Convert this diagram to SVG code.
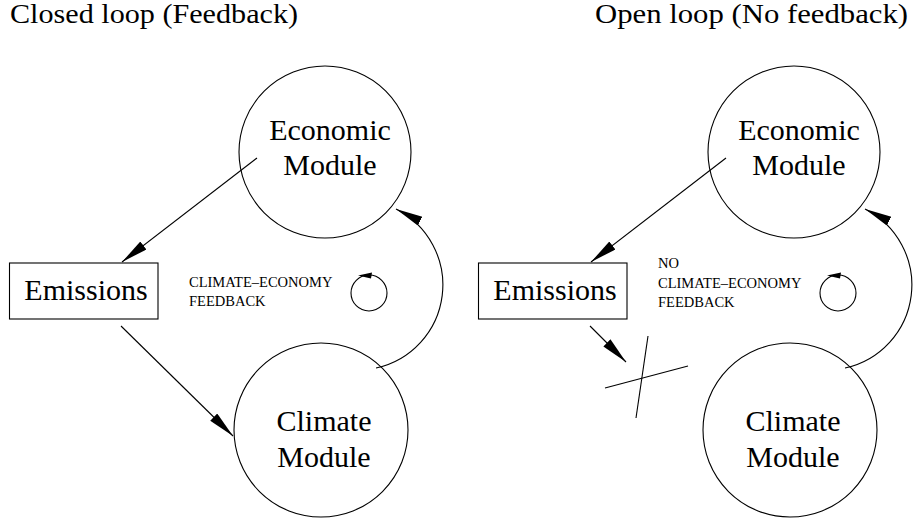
<svg xmlns="http://www.w3.org/2000/svg" width="915" height="521" viewBox="0 0 915 521" font-family="'Liberation Serif', serif">
  <style>
    .ln { fill: none; stroke: #000; stroke-width: 1.1; }
    .node { fill: #fff; stroke: #000; stroke-width: 1.1; }
    text { font-family: 'Liberation Serif', serif; fill: #000; }
    .big { font-size: 30px; text-anchor: middle; }
    .small { font-size: 14.5px; }
    .title { font-size: 27px; }
  </style>
  <defs>
    <marker id="head" markerUnits="userSpaceOnUse" markerWidth="30" markerHeight="12" refX="27" refY="5" orient="auto">
      <path d="M0,0 L27,5 L0,10 Z" fill="#000"/>
    </marker>
  </defs>

  <rect width="915" height="521" fill="#fff"/>

  <!-- panel titles -->
  <text class="title" x="10" y="23" textLength="288" lengthAdjust="spacingAndGlyphs">Closed loop (Feedback)</text>
  <text class="title" x="595" y="23" textLength="313" lengthAdjust="spacingAndGlyphs">Open loop (No feedback)</text>

  <!-- closed loop panel -->
  <g id="econ-closed">
    <circle class="node" cx="325" cy="152" r="86"/>
    <text class="big" x="330" y="140">Economic</text>
    <text class="big" x="330" y="175">Module</text>
  </g>
  <g id="emissions-closed">
    <rect class="node" x="9.5" y="263" width="148.5" height="56"/>
    <text class="big" x="86" y="300">Emissions</text>
  </g>
  <g id="climate-closed">
    <circle class="node" cx="321" cy="430" r="87"/>
    <text class="big" x="324" y="431">Climate</text>
    <text class="big" x="324" y="467">Module</text>
  </g>
  <g id="label-closed">
    <text class="small" x="189" y="287">CLIMATE–ECONOMY</text>
    <text class="small" x="189" y="306">FEEDBACK</text>
    <circle class="ln" cx="369" cy="293" r="18"/>
    <polygon points="358,275.5 372,272.5 371,278.5" fill="#000"/>
  </g>

  <!-- open loop panel -->
  <g id="econ-open">
    <circle class="node" cx="794" cy="152" r="86"/>
    <text class="big" x="799" y="140">Economic</text>
    <text class="big" x="799" y="175">Module</text>
  </g>
  <g id="emissions-open">
    <rect class="node" x="478.5" y="263" width="148.5" height="56"/>
    <text class="big" x="555" y="300">Emissions</text>
  </g>
  <g id="climate-open">
    <circle class="node" cx="790" cy="430" r="87"/>
    <text class="big" x="793" y="431">Climate</text>
    <text class="big" x="793" y="467">Module</text>
  </g>
  <g id="label-open">
    <text class="small" x="658" y="268">NO</text>
    <text class="small" x="658" y="288">CLIMATE–ECONOMY</text>
    <text class="small" x="658" y="307">FEEDBACK</text>
    <circle class="ln" cx="838" cy="293" r="18"/>
    <polygon points="827,275.5 841,272.5 840,278.5" fill="#000"/>
  </g>

  <!-- connectors -->
  <g id="connectors">
    <path class="ln" d="M257,158 L122,262" marker-end="url(#head)"/>
    <path class="ln" d="M121,326 L233,436" marker-end="url(#head)"/>
    <path class="ln" d="M376,368 A85,85 0 0 0 396,209" marker-end="url(#head)"/>

    <path class="ln" d="M726,158 L591,262" marker-end="url(#head)"/>
    <path class="ln" d="M590,326 L626,362" marker-end="url(#head)"/>
    <path class="ln" d="M845,368 A85,85 0 0 0 865,209" marker-end="url(#head)"/>

    <!-- broken link mark -->
    <path class="ln" d="M648,336 L636,418"/>
    <path class="ln" d="M605,388 L688,366"/>
  </g>
</svg>
